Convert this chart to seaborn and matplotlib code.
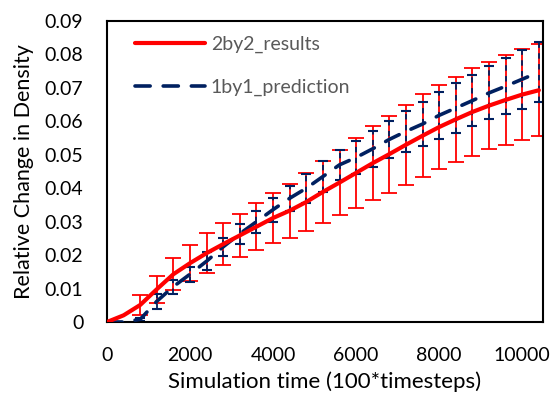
import matplotlib
matplotlib.use("Agg")
import matplotlib.pyplot as plt
import seaborn as sns
import numpy as np
from matplotlib.ticker import FuncFormatter, FixedLocator

# ---- data ----
time_steps = [0, 400, 800, 1200, 1600, 2000, 2400, 2800, 3200, 3600, 4000, 4400, 4800,
              5200, 5600, 6000, 6400, 6800, 7200, 7600, 8000, 8400, 8800, 9200, 9600,
              10000, 10400]
results_2by2 = [0.0, 0.0020, 0.0051, 0.0098, 0.0143, 0.0176, 0.0206, 0.0233, 0.0259,
                0.0285, 0.0311, 0.0333, 0.0359, 0.0389, 0.0417, 0.0446, 0.0475, 0.0502,
                0.0530, 0.0557, 0.0583, 0.0606, 0.0628, 0.0647, 0.0664, 0.0680, 0.0693]
err_2by2 = [0.0, 0.0, 0.0030, 0.0040, 0.0047, 0.0054, 0.0060, 0.0063, 0.0065, 0.0071,
            0.0075, 0.0081, 0.0086, 0.0092, 0.0098, 0.0104, 0.0110, 0.0115, 0.0120,
            0.0124, 0.0127, 0.0128, 0.0132, 0.0131, 0.0135, 0.0136, 0.0137]
prediction_1by1 = [0.0, 0.0, 0.0008, 0.0062, 0.0106, 0.0143, 0.0182, 0.0225, 0.0264,
                   0.0300, 0.0336, 0.0370, 0.0400, 0.0435, 0.0470, 0.0492, 0.0518,
                   0.0546, 0.0570, 0.0592, 0.0618, 0.0640, 0.0662, 0.0685, 0.0705,
                   0.0726, 0.0747]
err_1by1 = [0.0, 0.0, 0.0005, 0.0022, 0.0021, 0.0022, 0.0026, 0.0027, 0.0030, 0.0033,
            0.0036, 0.0037, 0.0043, 0.0045, 0.0045, 0.0050, 0.0054, 0.0055, 0.0062,
            0.0067, 0.0070, 0.0074, 0.0077, 0.0079, 0.0083, 0.0088, 0.0089]
x_ticks = [0, 2000, 4000, 6000, 8000, 10000]
y_ticks = [0, 0.01, 0.02, 0.03, 0.04, 0.05, 0.06, 0.07, 0.08, 0.09]
series_names = ["2by2_results", "1by1_prediction"]

RED = "#FF0000"
NAVY = "#002060"

sns.set_theme(style="white")
plt.rcParams["font.family"] = ["Lato", "DejaVu Sans"]

fig = plt.figure(figsize=(5.57, 3.96), dpi=100)
ax = fig.add_axes([107 / 557, 1 - 322 / 396, (543 - 107) / 557, (322 - 21) / 396])

# error bars
eb_r = ax.errorbar(time_steps[2:], results_2by2[2:], yerr=err_2by2[2:], fmt="none",
                   ecolor=RED, elinewidth=1.3, capsize=5.5, capthick=1.3, zorder=2)
eb_b = ax.errorbar(time_steps[2:], prediction_1by1[2:], yerr=err_1by1[2:], fmt="none",
                   ecolor=NAVY, elinewidth=1.3, capsize=3.5, capthick=1.5, zorder=2.1)
for lc in eb_b[2]:
    lc.set_linestyle((0, (3, 3)))

sns.lineplot(x=time_steps, y=prediction_1by1, ax=ax, color=NAVY, linewidth=2.6,
             linestyle=(0, (4.2, 3.6)), label=series_names[1], zorder=3)
sns.lineplot(x=time_steps, y=results_2by2, ax=ax, color=RED, linewidth=3.0,
             label=series_names[0], zorder=3.1)
for ln in ax.get_lines():
    ln.set_dash_capstyle("round")
    ln.set_solid_capstyle("round")

ax.set_xlim(0, 10500)
ax.set_ylim(0, 0.09)
ax.xaxis.set_major_locator(FixedLocator(x_ticks))
ax.yaxis.set_major_locator(FixedLocator(y_ticks))
ax.yaxis.set_major_formatter(FuncFormatter(lambda v, p: "0" if abs(v) < 1e-12 else f"{v:.2f}"))
ax.xaxis.set_major_formatter(FuncFormatter(lambda v, p: f"{int(round(v))}"))
ax.tick_params(axis="both", length=0, labelsize=14, colors="#000000")
ax.tick_params(axis="y", pad=17)
ax.tick_params(axis="x", pad=18)
for s in ax.spines.values():
    s.set_visible(True)
    s.set_color("#000000")
    s.set_linewidth(1.5)
ax.grid(False)

ax.set_xlabel("Simulation time (100*timesteps)", fontsize=16, color="#000000", labelpad=5)
ax.set_ylabel("Relative Change in Density", fontsize=15.5, color="#000000", labelpad=8)

handles, labels = ax.get_legend_handles_labels()
order = [labels.index(series_names[0]), labels.index(series_names[1])]
leg = ax.legend([handles[i] for i in order], [labels[i] for i in order],
                loc="upper left", bbox_to_anchor=(0.064, 0.952), frameon=False,
                fontsize=14, handlelength=3.6, handletextpad=0.3, labelspacing=1.32,
                borderaxespad=0, borderpad=0)
for t in leg.get_texts():
    t.set_color("#595959")

fig.savefig("out.png", dpi=100)
